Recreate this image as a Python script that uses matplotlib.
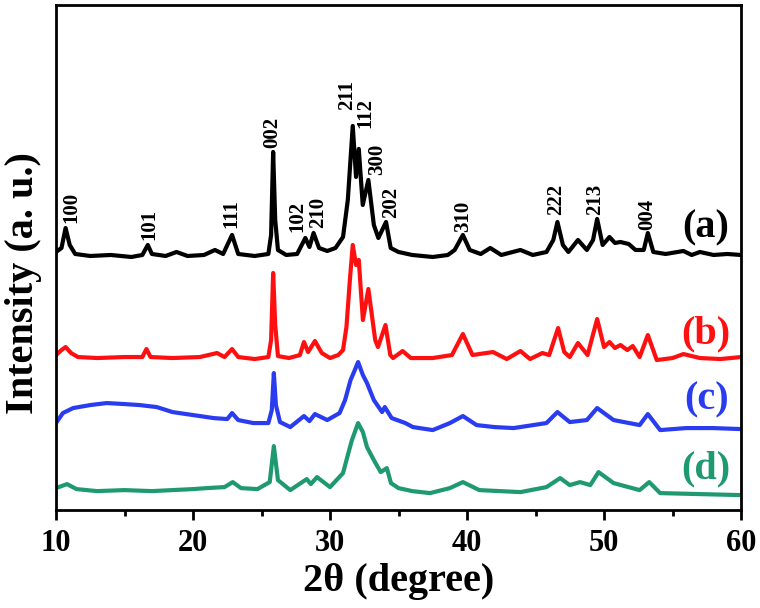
import matplotlib
matplotlib.use('Agg')
import matplotlib.pyplot as plt
from matplotlib.ticker import MultipleLocator

# 2theta / intensity (a.u., stacked offsets included)
theta_a = [10.0, 10.4, 10.7, 11.0, 11.4, 12.5, 14.0, 15.5, 16.3, 16.7, 17.0, 18.0, 18.8, 19.6,
           20.8, 21.6, 22.2, 22.85, 23.3, 24.5, 25.5, 25.7, 25.85, 26.0, 26.2, 26.8, 27.6, 28.2,
           28.5, 28.8, 29.2, 29.8, 30.4, 30.95, 31.3, 31.66, 31.9, 32.1, 32.39, 32.8, 33.2,
           33.53, 34.09, 34.43, 35.0, 36.0, 37.5, 38.6, 39.1, 39.7, 40.2, 41.0, 41.7, 42.5,
           43.9, 44.8, 45.8, 46.3, 46.6, 47.0, 47.4, 48.1, 48.75, 49.2, 49.5, 49.9, 50.4, 50.8,
           51.2, 51.8, 52.3, 52.9, 53.2, 53.6, 54.5, 55.8, 56.4, 57.0, 58.0, 59.0, 60.0]
int_a = [258, 262, 282, 265, 256, 254, 255, 253, 255, 265, 256, 254, 258, 254,
         255, 260, 256, 275, 256, 254, 256, 275, 358, 290, 260, 255, 256, 272,
         263, 277, 262, 259, 262, 273, 310, 384, 333, 361, 305, 330, 285,
         272, 288, 262, 258, 255, 253, 255, 260, 275, 260, 256, 262, 255,
         260, 255, 258, 270, 288, 265, 258, 270, 260, 270, 291, 265, 273, 267,
         268, 266, 260, 260, 277, 258, 256, 259, 255, 258, 255, 256, 255]

theta_b = [10.0, 10.4, 10.7, 11.1, 11.6, 13.0, 15.0, 16.3, 16.6, 16.9, 18.5, 20.5, 21.75, 22.3,
           22.85, 23.3, 24.5, 25.5, 25.7, 25.85, 26.0, 26.2, 27.0, 27.8, 28.1, 28.4, 28.9, 29.4,
           30.0, 30.6, 30.95, 31.2, 31.45, 31.66, 31.9, 32.1, 32.4, 32.8, 33.3, 33.5, 34.05,
           34.4, 34.6, 35.3, 35.9, 37.5, 38.9, 39.7, 40.4, 41.9, 42.9, 43.9, 44.6, 45.5, 46.0,
           46.65, 47.1, 47.5, 48.1, 48.8, 49.5, 50.0, 50.4, 50.8, 51.2, 51.7, 52.1, 52.6, 53.2,
           53.85, 55.0, 55.8, 57.0, 58.5, 60.0]
int_b = [155, 160, 163, 157, 153, 152, 153, 153, 161, 153, 152, 153, 157, 153,
         161, 153, 151, 153, 170, 237, 185, 154, 152, 155, 168, 158, 169, 157,
         152, 155, 160, 183, 230, 265, 245, 250, 190, 221, 170, 163, 185,
         155, 152, 159, 152, 152, 155, 176, 155, 158, 151, 159, 151, 157, 155,
         182, 158, 153, 167, 155, 191, 163, 168, 162, 165, 160, 164, 153, 175,
         150, 152, 156, 152, 151, 153]

theta_c = [10.0, 10.5, 11.25, 12.5, 13.7, 15.0, 16.1, 17.35, 18.5, 19.5, 20.5, 21.5, 22.5, 22.85,
           23.3, 24.4, 25.5, 25.75, 25.9, 26.05, 26.35, 27.1, 28.1, 28.5, 28.9, 29.8, 30.7, 31.1,
           31.5, 31.75, 32.05, 32.4, 32.7, 33.2, 33.8, 34.0, 34.5, 35.5, 36.05, 37.5, 38.75,
           39.7, 40.7, 42.0, 43.4, 45.8, 46.6, 47.5, 48.75, 49.5, 50.7, 52.6, 53.2, 54.1, 56.0,
           57.95, 60.0]
int_c = [87, 97, 102, 105, 107, 106, 105, 103, 98, 96, 94, 92, 91, 97,
         90, 87, 87, 100, 137, 105, 88, 83, 94, 89, 96, 90, 97, 110,
         130, 138, 148, 135, 127, 110, 98, 103, 92, 87, 83, 80, 87,
         94, 85, 83, 82, 87, 98, 88, 90, 102, 90, 85, 96, 80, 82,
         82, 81]

theta_d = [10.0, 10.8, 11.5, 13.0, 15.0, 17.0, 18.5, 20.0, 21.0, 22.3, 22.9, 23.5, 24.7, 25.6,
           25.9, 26.2, 27.1, 28.3, 28.6, 29.05, 30.0, 30.95, 31.3, 31.6, 32.05, 32.4, 32.7,
           33.2, 33.7, 34.15, 34.45, 35.0, 36.0, 37.3, 38.75, 39.7, 40.9, 43.9, 45.8, 46.8,
           47.5, 48.25, 49.0, 49.6, 50.7, 52.6, 53.3, 54.1, 57.0, 60.0]
int_d = [22, 26, 21, 19, 20, 19, 20, 21, 22, 23, 28, 22, 21, 28,
         64, 30, 20, 31, 26, 33, 23, 37, 55, 70, 87, 78, 63,
         50, 38, 42, 27, 22, 19, 17, 22, 28, 20, 18, 23, 32,
         25, 28, 25, 38, 27, 20, 28, 17, 16, 15]

# hkl labels of pattern (a)
hkl = ['100', '101', '111', '002', '102', '210', '211', '112', '300', '202',
       '310', '222', '213', '004']
hkl_theta = [11.1, 16.8, 22.8, 25.8, 27.6, 29.1, 31.25, 32.6, 33.45, 34.45,
             39.7, 46.5, 49.35, 53.15]
hkl_height = [287, 270, 282, 362, 278, 282, 400, 382, 335, 292,
              278, 295, 295, 280]

sample_names = ['(a)', '(b)', '(c)', '(d)']
sample_height = [282, 176, 110, 41]

colors = ['black', '#ff1010', '#2a3cf0', '#1f9a70']

plt.rcParams['font.family'] = ['Liberation Serif', 'DejaVu Serif']
plt.rcParams['font.weight'] = 'bold'

fig = plt.figure(figsize=(7.6, 6.08), dpi=100)
ax = fig.add_axes([0.0737, 0.161, 0.9013, 0.831])

series = [(theta_a, int_a), (theta_b, int_b), (theta_c, int_c), (theta_d, int_d)]
for (tx, ty), c in zip(series, colors):
    ax.plot(tx, ty, color=c, lw=3.0, solid_joinstyle='round')

for lab, tx, ty in zip(hkl, hkl_theta, hkl_height):
    ax.text(tx, ty, lab, rotation=90, ha='center', va='bottom', fontsize=15,
            fontweight='bold')

for name, hy, c in zip(sample_names, sample_height, colors):
    ax.text(57.45, hy, name, color=c, ha='center', va='center', fontsize=29,
            fontweight='bold')

ax.set_xlim(10, 60)
ax.set_ylim(0, 505)
ax.xaxis.set_major_locator(MultipleLocator(10))
ax.xaxis.set_minor_locator(MultipleLocator(5))
ax.tick_params(axis='x', which='major', direction='out', length=7.5, width=2,
               labelsize=22, pad=6)
ax.tick_params(axis='x', which='minor', direction='out', length=4.5, width=2)
ax.set_yticks([])
for lbl in ax.get_xticklabels():
    lbl.set_fontweight('bold')
for sp in ax.spines.values():
    sp.set_linewidth(2)

ax.set_xlabel('2θ (degree)', fontsize=29, fontweight='bold', labelpad=4)
ax.set_ylabel('Intensity (a. u.)', fontsize=29, fontweight='bold')
ax.yaxis.set_label_coords(-0.02, 0.45)

fig.savefig('out.png', dpi=100)
